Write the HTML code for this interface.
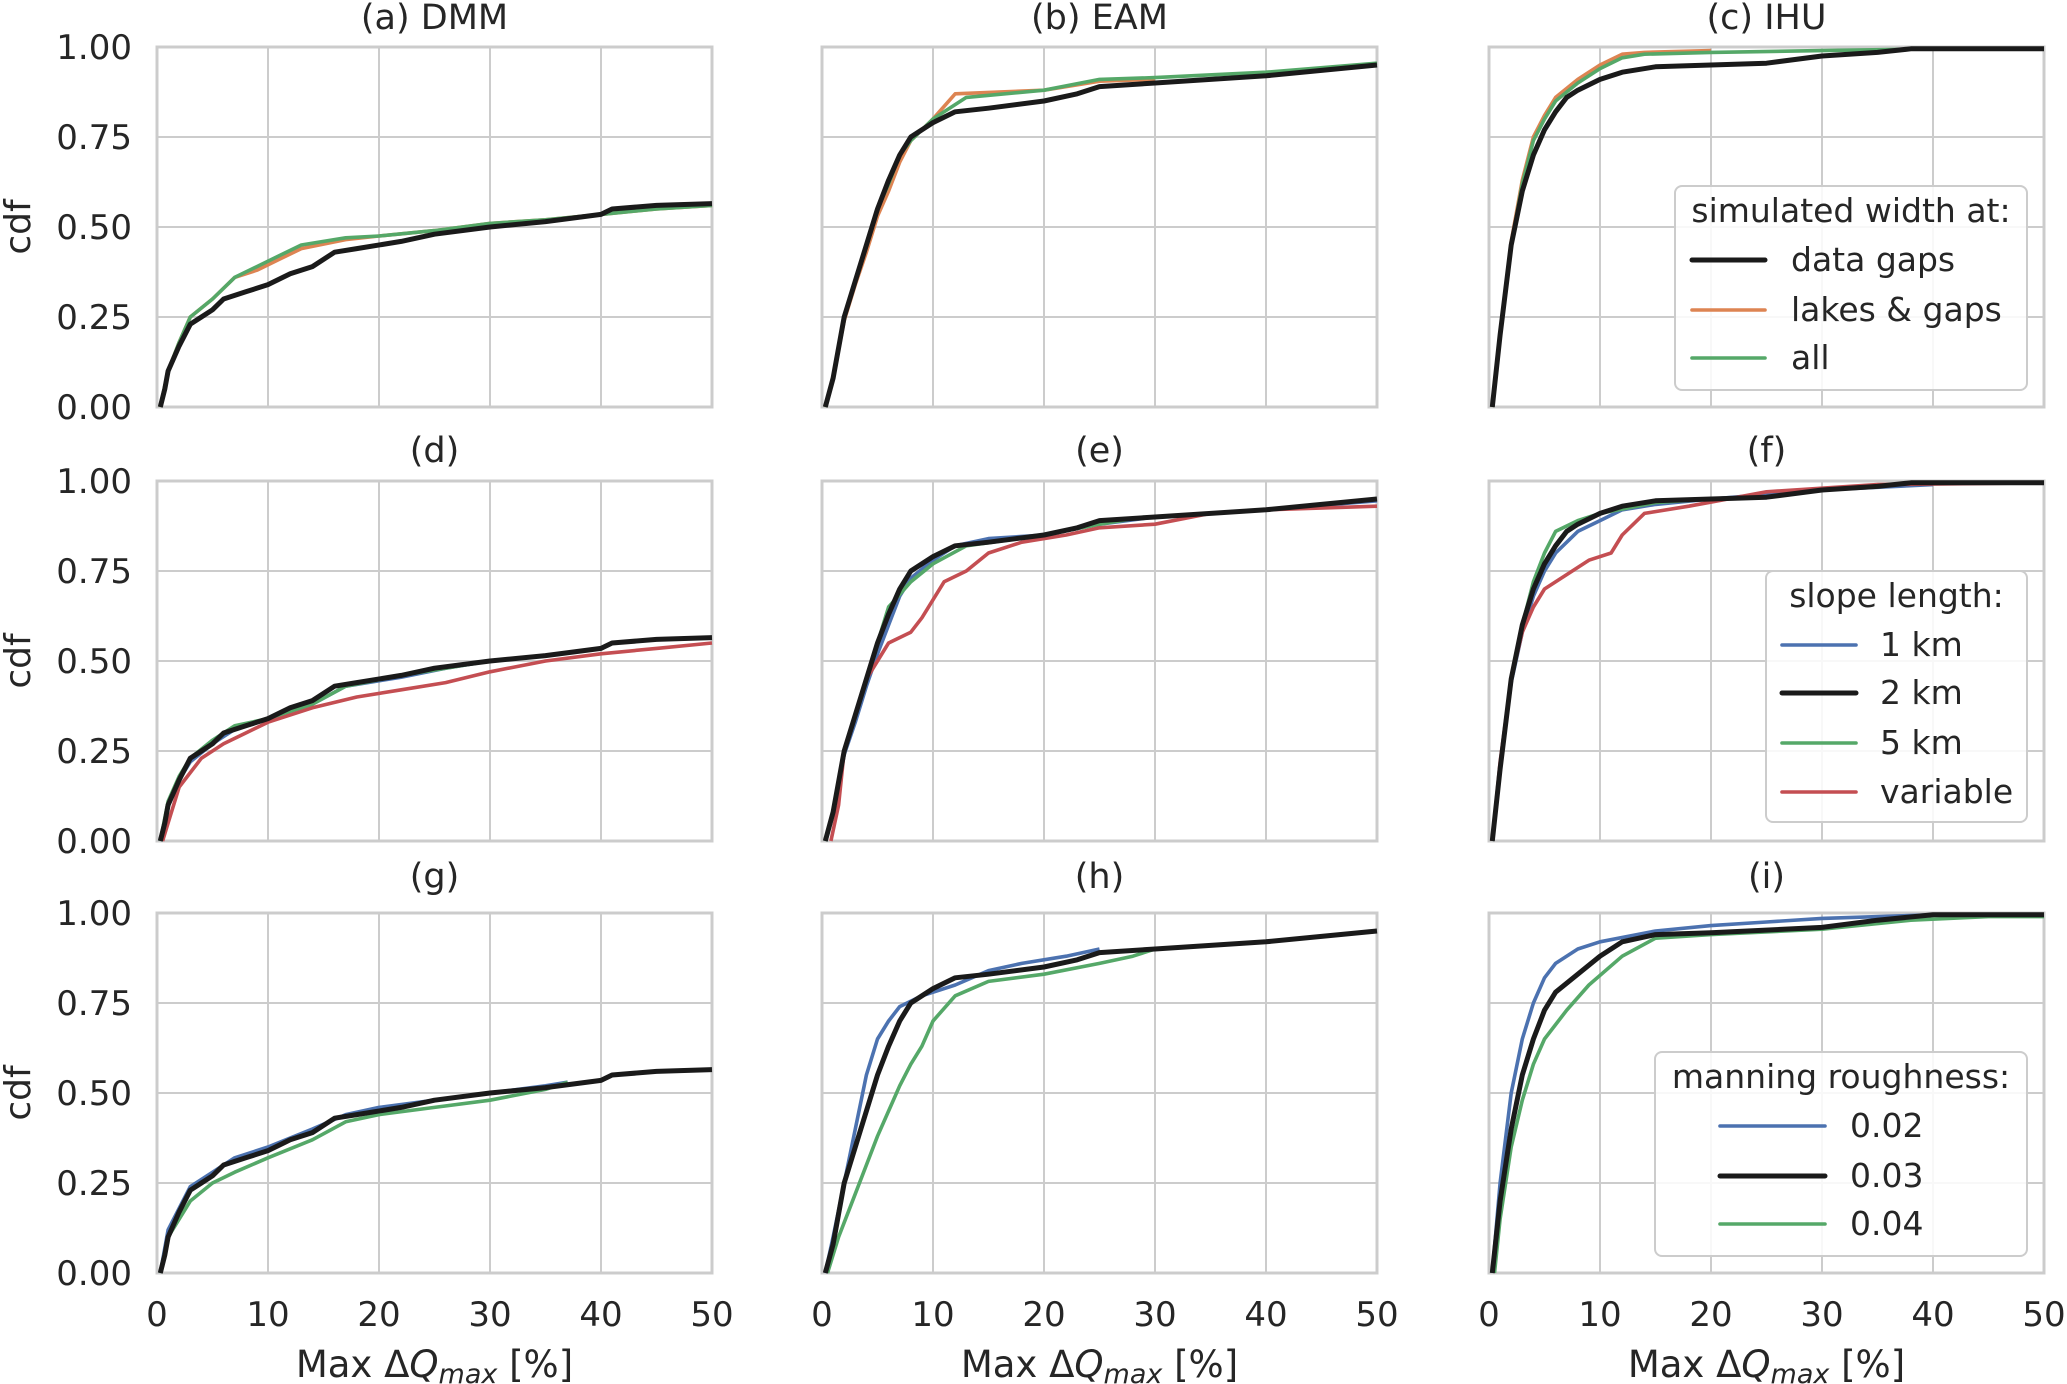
<!DOCTYPE html>
<html><head><meta charset="utf-8"><style>
html,body{margin:0;padding:0;background:#fff;}
svg{display:block;font-family:"DejaVu Sans","Liberation Sans",sans-serif;}
</style></head><body>
<svg id="fig" width="2067" height="1384" viewBox="0 0 2067 1384" xmlns="http://www.w3.org/2000/svg"></svg>
<script>
// ---- data ----
const xTicks = [0,10,20,30,40,50];
const yTicks = [0,0.25,0.5,0.75,1.0];
const yTickLabels = ["0.00","0.25","0.50","0.75","1.00"];
const panelTitles = ["(a) DMM","(b) EAM","(c)  IHU","(d)","(e)","(f)","(g)","(h)","(i)"];

const dmmBlack = [[0.3,0],[0.7,0.05],[1,0.1],[2,0.17],[3,0.23],[4,0.25],[5,0.27],[6,0.3],[7,0.31],[8,0.32],[10,0.34],[12,0.37],[14,0.39],[16,0.43],[18,0.44],[22,0.46],[25,0.48],[30,0.5],[35,0.515],[40,0.535],[41,0.55],[45,0.56],[50,0.565]];
const dmmOrange = [[0.3,0],[1,0.1],[2,0.18],[3,0.25],[5,0.3],[7,0.36],[9,0.38],[11,0.41],[13,0.44],[17,0.465],[20,0.475],[25,0.49],[30,0.51],[35,0.52],[40,0.535],[45,0.55],[50,0.56]];
const dmmGreen = [[0.3,0],[1,0.1],[2,0.18],[3,0.25],[5,0.3],[7,0.36],[9,0.39],[11,0.42],[13,0.45],[17,0.47],[20,0.475],[25,0.49],[30,0.51],[35,0.52],[40,0.535],[45,0.55],[50,0.56]];

const eamBlack = [[0.3,0],[1,0.08],[2,0.25],[3,0.35],[4,0.45],[5,0.55],[6,0.63],[7,0.7],[8,0.75],[10,0.79],[12,0.82],[15,0.83],[20,0.85],[23,0.87],[25,0.89],[30,0.9],[40,0.92],[45,0.935],[50,0.95]];
const eamOrange = [[0.3,0],[1,0.08],[2,0.24],[3,0.34],[4,0.43],[5,0.53],[6,0.6],[7,0.68],[8,0.74],[10,0.8],[12,0.87],[20,0.88],[25,0.905],[30,0.91]];
const eamGreen = [[0.3,0],[1,0.08],[2,0.25],[3,0.35],[4,0.45],[5,0.55],[6,0.62],[7,0.7],[8,0.74],[10,0.8],[13,0.86],[20,0.88],[25,0.91],[30,0.915],[40,0.93],[50,0.955]];

const ihuBlack = [[0.3,0],[1,0.2],[2,0.45],[3,0.6],[4,0.7],[5,0.77],[6,0.82],[7,0.86],[8,0.88],[10,0.91],[12,0.93],[15,0.945],[20,0.95],[25,0.955],[30,0.975],[35,0.985],[38,0.995],[50,0.995]];
const ihuOrange = [[0.3,0],[1,0.2],[2,0.46],[3,0.63],[4,0.75],[5,0.81],[6,0.86],[8,0.91],[10,0.95],[12,0.98],[14,0.985],[20,0.99]];
const ihuGreen = [[0.3,0],[1,0.2],[2,0.45],[3,0.62],[4,0.74],[5,0.8],[6,0.85],[8,0.9],[10,0.94],[12,0.97],[14,0.98],[20,0.985],[30,0.99],[40,0.995],[50,0.995]];

const slopeDmm1 = [[0.3,0],[1,0.1],[2,0.17],[3,0.22],[5,0.27],[7,0.31],[10,0.34],[14,0.38],[17,0.43],[22,0.455],[26,0.48],[30,0.5],[35,0.515],[40,0.535]];
const slopeDmm5 = [[0.3,0],[1,0.11],[2,0.18],[3,0.23],[5,0.28],[7,0.32],[10,0.34],[14,0.38],[17,0.43],[22,0.46],[26,0.48],[30,0.5]];
const slopeDmmVar = [[0.5,0],[1,0.05],[2,0.15],[4,0.23],[6,0.27],[8,0.3],[10,0.33],[14,0.37],[18,0.4],[22,0.42],[26,0.44],[30,0.47],[35,0.5],[40,0.52],[45,0.535],[50,0.55]];

const slopeEam1 = [[0.3,0],[1,0.08],[2,0.24],[3,0.33],[4,0.43],[5,0.52],[6,0.6],[7,0.68],[8,0.73],[10,0.78],[12,0.82],[15,0.84],[20,0.85],[25,0.88],[30,0.9],[40,0.92],[50,0.945]];
const slopeEam5 = [[0.3,0],[1,0.08],[2,0.25],[4,0.45],[6,0.65],[8,0.72],[10,0.77],[13,0.82],[20,0.85],[25,0.88],[29,0.9]];
const slopeEamVar = [[0.8,0],[1.5,0.1],[2,0.25],[3,0.35],[4,0.45],[5,0.5],[6,0.55],[8,0.58],[9,0.62],[10,0.67],[11,0.72],[13,0.75],[15,0.8],[18,0.83],[22,0.85],[25,0.87],[30,0.88],[35,0.91],[40,0.92],[50,0.93]];

const slopeIhu1 = [[0.3,0],[1,0.2],[2,0.44],[3,0.58],[4,0.68],[5,0.75],[6,0.8],[8,0.86],[10,0.89],[12,0.92],[15,0.935],[20,0.95],[30,0.975],[40,0.99]];
const slopeIhu5 = [[0.3,0],[1,0.2],[2,0.45],[3,0.6],[4,0.72],[5,0.8],[6,0.86],[8,0.89],[10,0.91],[15,0.94],[20,0.95]];
const slopeIhuVar = [[0.3,0],[1,0.22],[2,0.45],[3,0.58],[4,0.65],[5,0.7],[7,0.74],[9,0.78],[11,0.8],[12,0.85],[14,0.91],[18,0.93],[25,0.97],[30,0.98],[35,0.99],[50,0.995]];

const manDmm02 = [[0.3,0],[1,0.12],[2,0.18],[3,0.24],[5,0.28],[7,0.32],[10,0.35],[14,0.4],[17,0.44],[20,0.46],[25,0.48],[30,0.5],[35,0.52],[37,0.53]];
const manDmm04 = [[0.3,0],[1,0.1],[2,0.15],[3,0.2],[5,0.25],[7,0.28],[10,0.32],[14,0.37],[17,0.42],[20,0.44],[25,0.46],[30,0.48],[35,0.51],[37,0.53]];
const manEam02 = [[0.3,0],[1,0.1],[2,0.25],[3,0.4],[4,0.55],[5,0.65],[6,0.7],[7,0.74],[9,0.77],[12,0.8],[15,0.84],[18,0.86],[22,0.88],[25,0.9]];
const manEam04 = [[0.5,0],[1.5,0.1],[3,0.22],[4,0.3],[5,0.38],[6,0.45],[7,0.52],[8,0.58],[9,0.63],[10,0.7],[12,0.77],[15,0.81],[20,0.83],[25,0.86],[28,0.88],[30,0.9]];
const manIhu02 = [[0.3,0],[1,0.25],[2,0.5],[3,0.65],[4,0.75],[5,0.82],[6,0.86],[8,0.9],[10,0.92],[15,0.95],[20,0.965],[25,0.975],[30,0.985],[40,0.995]];
const manIhu03 = [[0.3,0],[1,0.2],[2,0.4],[3,0.55],[4,0.65],[5,0.73],[6,0.78],[8,0.83],[10,0.88],[12,0.92],[15,0.94],[20,0.945],[30,0.96],[35,0.98],[40,0.995],[50,0.995]];
const manIhu04 = [[0.5,0],[1,0.15],[2,0.35],[3,0.48],[4,0.58],[5,0.65],[7,0.73],[9,0.8],[12,0.88],[15,0.93],[20,0.94],[30,0.955],[38,0.98],[45,0.99],[50,0.99]];

// ---- layout ----
const NS = "http://www.w3.org/2000/svg";
const svg = document.getElementById("fig");
const colL = [157, 822, 1489], colW = 555;
const rowT = [47, 481, 913], rowH = 360;
const C = {blue:"#4c72b0", orange:"#dd8452", green:"#55a868", red:"#c44e52", black:"#1a1a1a"};
const CW = 3.6, BW = 5;
function mk(tag, attrs, parent){ const e=document.createElementNS(NS,tag); for(const k in attrs) e.setAttribute(k,attrs[k]); (parent||svg).appendChild(e); return e; }

const panels = [
  {s:[[dmmOrange,C.orange,CW],[dmmGreen,C.green,CW],[dmmBlack,C.black,BW]]},
  {s:[[eamOrange,C.orange,CW],[eamGreen,C.green,CW],[eamBlack,C.black,BW]]},
  {s:[[ihuOrange,C.orange,CW],[ihuGreen,C.green,CW],[ihuBlack,C.black,BW]]},
  {s:[[slopeDmm1,C.blue,CW],[slopeDmm5,C.green,CW],[slopeDmmVar,C.red,CW],[dmmBlack,C.black,BW]]},
  {s:[[slopeEam1,C.blue,CW],[slopeEam5,C.green,CW],[slopeEamVar,C.red,CW],[eamBlack,C.black,BW]]},
  {s:[[slopeIhu1,C.blue,CW],[slopeIhu5,C.green,CW],[slopeIhuVar,C.red,CW],[ihuBlack,C.black,BW]]},
  {s:[[manDmm02,C.blue,CW],[manDmm04,C.green,CW],[dmmBlack,C.black,BW]]},
  {s:[[manEam02,C.blue,CW],[manEam04,C.green,CW],[eamBlack,C.black,BW]]},
  {s:[[manIhu02,C.blue,CW],[manIhu04,C.green,CW],[manIhu03,C.black,BW]]}
];
const titleY = [29, 462, 888];

panels.forEach((p,i)=>{
  const r=Math.floor(i/3), c=i%3;
  const L=colL[c], T=rowT[r];
  const xs = v => L + v/50*colW;
  const ys = v => T + rowH - v*rowH;
  const g = mk("g",{});
  
  
  xTicks.forEach(t=>{ const l=mk("line",{x1:xs(t),x2:xs(t),y1:T,y2:T+rowH,stroke:"#cccccc","stroke-width":2},g);
      });
  yTicks.forEach(t=>{ const l=mk("line",{x1:L,x2:L+colW,y1:ys(t),y2:ys(t),stroke:"#cccccc","stroke-width":2},g);
      });
  const fr=mk("rect",{x:L,y:T,width:colW,height:rowH,fill:"none",stroke:"#cccccc","stroke-width":3},g);
   
  p.s.forEach(([d,col,w])=>{
    const pts=d.map(q=>xs(q[0]).toFixed(1)+","+ys(q[1]).toFixed(1)).join(" ");
    const pl=mk("polyline",{points:pts,fill:"none",stroke:col,"stroke-width":w,"stroke-linejoin":"round"},g);
    
    
  });
  const tt=mk("text",{x:L+colW/2,y:titleY[r],"text-anchor":"middle","font-size":35,fill:"#262626"},g);
  tt.textContent=panelTitles[i];
  
  
  if(c===0){
    yTicks.forEach((t,k)=>{ const tx=mk("text",{x:132,y:ys(t)+12,"text-anchor":"end","font-size":34,fill:"#262626"},g);
      tx.textContent=yTickLabels[k];
        });
    const yl=mk("text",{x:0,y:0,"text-anchor":"middle","font-size":36,fill:"#262626",transform:`translate(30,${T+rowH/2}) rotate(-90)`},g);
    yl.textContent="cdf";
     
  }
  if(r===2){
    xTicks.forEach(t=>{ const tx=mk("text",{x:xs(t),y:1326,"text-anchor":"middle","font-size":34,fill:"#262626"},g);
      tx.textContent=String(t);
        });
    const xl=mk("text",{x:L+colW/2,y:1377,"text-anchor":"middle","font-size":37,fill:"#262626"},g);
    xl.innerHTML='Max Δ<tspan font-style="italic">Q</tspan><tspan font-style="italic" font-size="27" dy="6">max</tspan><tspan dy="-6"> [%]</tspan>';
     
  }
});

// ---- legends ----
function legend(name,box,title,titleY,items,lineX1,lineX2,textX){
  const g=mk("g",{});
  
  
  mk("rect",{x:box[0],y:box[1],width:box[2],height:box[3],rx:7,fill:"#ffffff","fill-opacity":0.85,stroke:"#cccccc","stroke-width":2},g);
  const t=mk("text",{x:box[0]+box[2]/2,y:titleY+11,"text-anchor":"middle","font-size":33,fill:"#262626"},g);
  t.textContent=title;
   
  items.forEach(([lab,col,w,y])=>{
    const e=mk("g",{},g);
    
    
    mk("line",{x1:lineX1,x2:lineX2,y1:y,y2:y,stroke:col,"stroke-width":w,"stroke-linecap":"round"},e);
    const tx=mk("text",{x:textX,y:y+11,"font-size":33,fill:"#262626"},e);
    tx.textContent=lab;
  });
}
legend("legend-width",[1675,186,352,204],"simulated width at:",211,
  [["data gaps",C.black,BW,260],["lakes & gaps",C.orange,CW,310],["all",C.green,CW,358]],1692,1765,1791);
legend("legend-slope",[1766,571,261,251],"slope length:",596,
  [["1 km",C.blue,CW,645],["2 km",C.black,BW,693],["5 km",C.green,CW,743],["variable",C.red,CW,792]],1782,1856,1880);
legend("legend-manning",[1655,1052,372,204],"manning roughness:",1077,
  [["0.02",C.blue,CW,1126],["0.03",C.black,BW,1176],["0.04",C.green,CW,1224]],1720,1825,1850);
</script>
</body></html>
